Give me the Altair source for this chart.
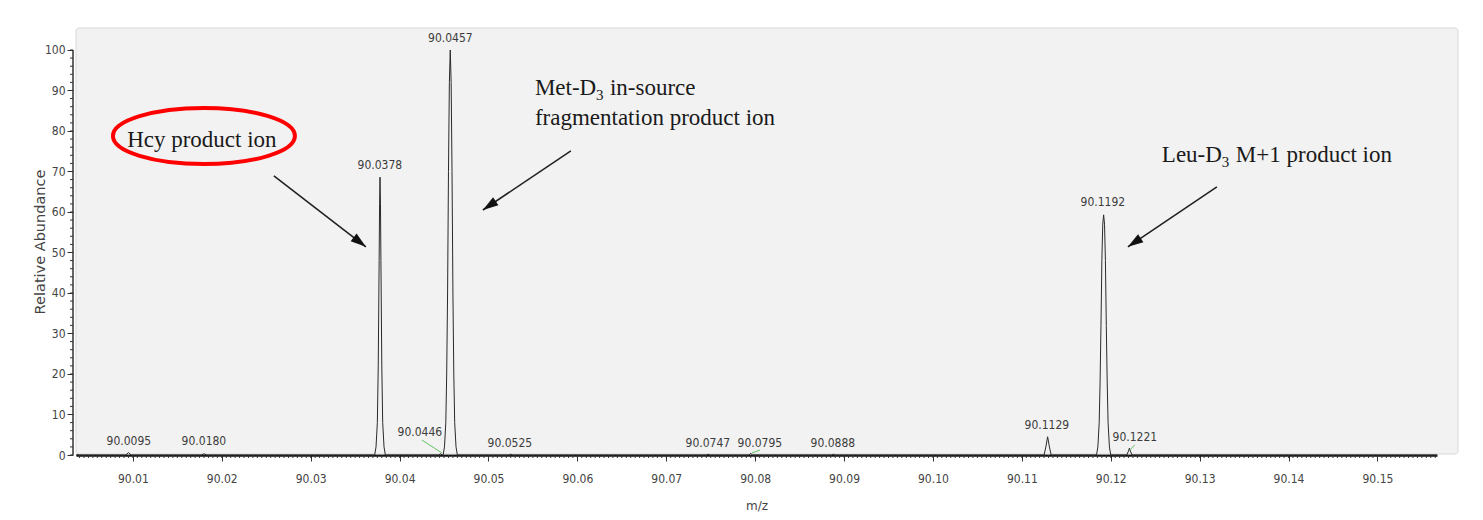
import altair as alt
import pandas as pd

# ---------------- data ----------------
# profile spectrum (m/z, relative abundance)
profile_mz = [
    90.0036, 90.0092, 90.0095, 90.0098,
    90.0177, 90.0180, 90.0183,
    90.0372, 90.03735, 90.0375, 90.0376, 90.0377, 90.03775, 90.0378, 90.03785, 90.0379, 90.0380, 90.0381, 90.03825, 90.0384,
    90.0444, 90.0446, 90.0448,
    90.0449, 90.04505, 90.0452, 90.0453, 90.0454, 90.0455, 90.0456, 90.0457, 90.0458, 90.0459, 90.0460, 90.0461, 90.0462, 90.04635, 90.0465,
    90.0523, 90.0525, 90.0527,
    90.0745, 90.0747, 90.0749,
    90.0793, 90.0795, 90.0797,
    90.0886, 90.0888, 90.0890,
    90.1125, 90.1127, 90.1129, 90.1131, 90.1133,
    90.1184, 90.11855, 90.1187, 90.1188, 90.1189, 90.1190, 90.1191, 90.1192, 90.1193, 90.1194, 90.1195, 90.1196, 90.1197, 90.11985, 90.1200,
    90.1218, 90.1220, 90.1221, 90.1222, 90.1224,
    90.1567,
]
profile_int = [
    0, 0, 0.6, 0,
    0, 0.3, 0,
    0, 2, 8, 22, 48, 62, 68.6, 62, 48, 22, 8, 2, 0,
    0, 0.3, 0,
    0, 2, 8, 20, 40, 70, 92, 100, 92, 70, 40, 20, 8, 2, 0,
    0, 0.2, 0,
    0, 0.2, 0,
    0, 0.4, 0,
    0, 0.2, 0,
    0, 2.0, 4.5, 2.0, 0,
    0, 2, 8, 18, 32, 48, 57, 59.3, 57, 48, 32, 18, 8, 2, 0,
    0, 1.0, 1.7, 1.0, 0,
    0,
]

# peak labels
label_text = ["90.0095", "90.0180", "90.0378", "90.0446", "90.0457", "90.0525",
              "90.0747", "90.0795", "90.0888", "90.1129", "90.1192", "90.1221"]
label_mz = [90.00955, 90.01799, 90.03778, 90.04228, 90.04571, 90.05241,
            90.07468, 90.08053, 90.08874, 90.11281, 90.11911, 90.12271]
label_int = [3.46, 3.46, 71.6, 5.68, 103.0, 2.96, 2.96, 2.96, 2.96, 7.4, 62.5, 4.44]

# green leader lines
leader_mz_from = [90.04251, 90.07963, 90.12215]
leader_int_from = [3.7, 0.5, 1.2]
leader_mz_to = [90.04476, 90.08053, 90.12271]
leader_int_to = [0.5, 1.2, 2.5]

# annotation arrows
arrow_mz_from = [90.02586, 90.05927, 90.13194]
arrow_int_from = [68.9, 75.1, 66.2]
arrow_mz_to = [90.03621, 90.04937, 90.12193]
arrow_int_to = [51.4, 60.5, 51.4]
arrow_angle = [127.7, 236.2, 236.0]

# axis ticks
x_major = [round(90.01 + 0.01 * i, 2) for i in range(15)]
x_minor = [round(90.004 + 0.0005 * i, 4) for i in range(306)]
y_major = list(range(0, 101, 10))
y_minor = list(range(0, 101, 2))

# ---------------- styling ----------------
W, H = 1361, 427
NARROW = "Liberation Sans Narrow, Arial Narrow, DejaVu Sans Condensed, sans-serif"
SERIF = "Liberation Serif, Times New Roman, serif"
SANS = "DejaVu Sans, sans-serif"
xs = alt.Scale(domain=[90.0036, 90.1567], nice=False, zero=False)
ys = alt.Scale(domain=[0, 105.43], nice=False, zero=False)

spec = pd.DataFrame({"mz": profile_mz, "ab": profile_int})
labels = pd.DataFrame({"t": label_text, "mz": label_mz, "ab": label_int})
leaders = pd.DataFrame({"mz": leader_mz_from, "ab": leader_int_from,
                        "mz2": leader_mz_to, "ab2": leader_int_to})
arrows = pd.DataFrame({"mz": arrow_mz_from, "ab": arrow_int_from,
                       "mz2": arrow_mz_to, "ab2": arrow_int_to, "ang": arrow_angle})
xmin = pd.DataFrame({"mz": x_minor})
ymin = pd.DataFrame({"ab": y_minor})
ydom = pd.DataFrame({"ab": [0], "ab2": [100]})
one = pd.DataFrame({"k": [0]})

X = lambda f: alt.X(f, scale=xs)
Y = lambda f: alt.Y(f, scale=ys)

bg = alt.Chart(one).mark_rect(fill="#f2f2f2", stroke="#d8d8d8", strokeWidth=1,
                              cornerRadius=3).encode(
    x=alt.value(0), x2=alt.value(W + 21), y=alt.value(0), y2=alt.value(H - 1))

xminor = alt.Chart(xmin).mark_rule(color="#333333", strokeWidth=1).encode(
    x=X("mz:Q"), y=alt.value(H), y2=alt.value(H + 3))

yminor = alt.Chart(ymin).mark_rule(color="#333333", strokeWidth=1).encode(
    y=Y("ab:Q"), x=alt.value(-3), x2=alt.value(-6))

ydomain = alt.Chart(ydom).mark_rule(color="#333333", strokeWidth=1.5).encode(
    x=alt.value(-3), y=Y("ab:Q"), y2="ab2:Q")

line = alt.Chart(spec).mark_line(color="#2a2a2a", strokeWidth=1).encode(
    x=alt.X("mz:Q", scale=xs, axis=alt.Axis(
        values=x_major, format=".2f", orient="bottom", grid=False,
        tickSize=6, tickWidth=1, tickColor="#333333",
        domainColor="#111111", domainWidth=2.5,
        labelFont=NARROW, labelFontSize=12, labelColor="#444444", labelPadding=12,
        labelFlush=False, title="m/z", titleFont=SANS, titleFontSize=12,
        titleFontWeight="normal", titleColor="#444444", titlePadding=16)),
    y=alt.Y("ab:Q", scale=ys, axis=alt.Axis(
        values=y_major, orient="left", grid=False, offset=3, domain=False,
        tickSize=6, tickWidth=1, tickColor="#333333",
        labelFont=NARROW, labelFontSize=12, labelColor="#444444", labelPadding=2,
        title="Relative Abundance", titleFont=SANS, titleFontSize=14.5,
        titleFontWeight="normal", titleColor="#444444", titlePadding=-3)),
)

leader = alt.Chart(leaders).mark_rule(color="#66c266", strokeWidth=1).encode(
    x=X("mz:Q"), y=Y("ab:Q"), x2="mz2:Q", y2="ab2:Q")

peak_labels = alt.Chart(labels).mark_text(
    font=NARROW, fontSize=12, color="#3c3c3c", align="center", baseline="middle").encode(
    x=X("mz:Q"), y=Y("ab:Q"), text="t:N")

arrow_lines = alt.Chart(arrows).mark_rule(color="#222222", strokeWidth=1.6).encode(
    x=X("mz:Q"), y=Y("ab:Q"), x2="mz2:Q", y2="ab2:Q")

HEAD = "M0,0 L0.62,2 L-0.62,2 Z"
arrow_heads = alt.Chart(arrows).mark_point(
    shape=HEAD, size=240, filled=True, color="#111111", opacity=1, strokeWidth=0).encode(
    x=X("mz2:Q"), y=Y("ab2:Q"), angle=alt.Angle("ang:Q", scale=None))

ELLIPSE = "M-1,0 A1,0.308 0 1,1 1,0 A1,0.308 0 1,1 -1,0 Z"
ell = alt.Chart(pd.DataFrame({"mz": [90.01799], "ab": [78.77]})).mark_point(
    shape=ELLIPSE, size=33124, filled=False, stroke="#ff0000", strokeWidth=4, opacity=1).encode(
    x=X("mz:Q"), y=Y("ab:Q"))


def note(text, mz, ab, size=23, dx=0, dy=0, align="left"):
    d = pd.DataFrame({"t": [text], "mz": [mz], "ab": [ab]})
    return alt.Chart(d).mark_text(
        font=SERIF, fontSize=size, color="#1a1a1a", align=align, baseline="alphabetic",
        dx=dx, dy=dy).encode(x=X("mz:Q"), y=Y("ab:Q"), text="t:N")


hcy_text = "Hcy product ion"
met_parts = ["Met-D", "3", "in-source"]
met_line2 = "fragmentation product ion"
leu_parts = ["Leu-D", "3", "M+1 product ion"]

notes = [
    note(hcy_text, 90.01776, 76.05, align="center"),
    note(met_parts[0], 90.05522, 88.9),
    note(met_parts[1], 90.05522, 88.9, size=15, dx=61, dy=5),
    note(met_parts[2], 90.05522, 88.9, dx=75),
    note(met_line2, 90.05522, 81.5),
    note(leu_parts[0], 90.12575, 72.3),
    note(leu_parts[1], 90.12575, 72.3, size=15, dx=60, dy=5),
    note(leu_parts[2], 90.12575, 72.3, dx=74),
]

chart = alt.layer(
    bg, line, xminor, yminor, ydomain, leader, peak_labels,
    arrow_lines, arrow_heads, ell, *notes
).properties(
    width=W, height=H,
    autosize=alt.AutoSizeParams(type="none"),
    padding={"left": 68, "top": 20, "right": 38, "bottom": 57},
    background="white",
).configure_view(strokeWidth=0)

chart.save("out.html", embed_options={"renderer": "svg", "actions": False})
